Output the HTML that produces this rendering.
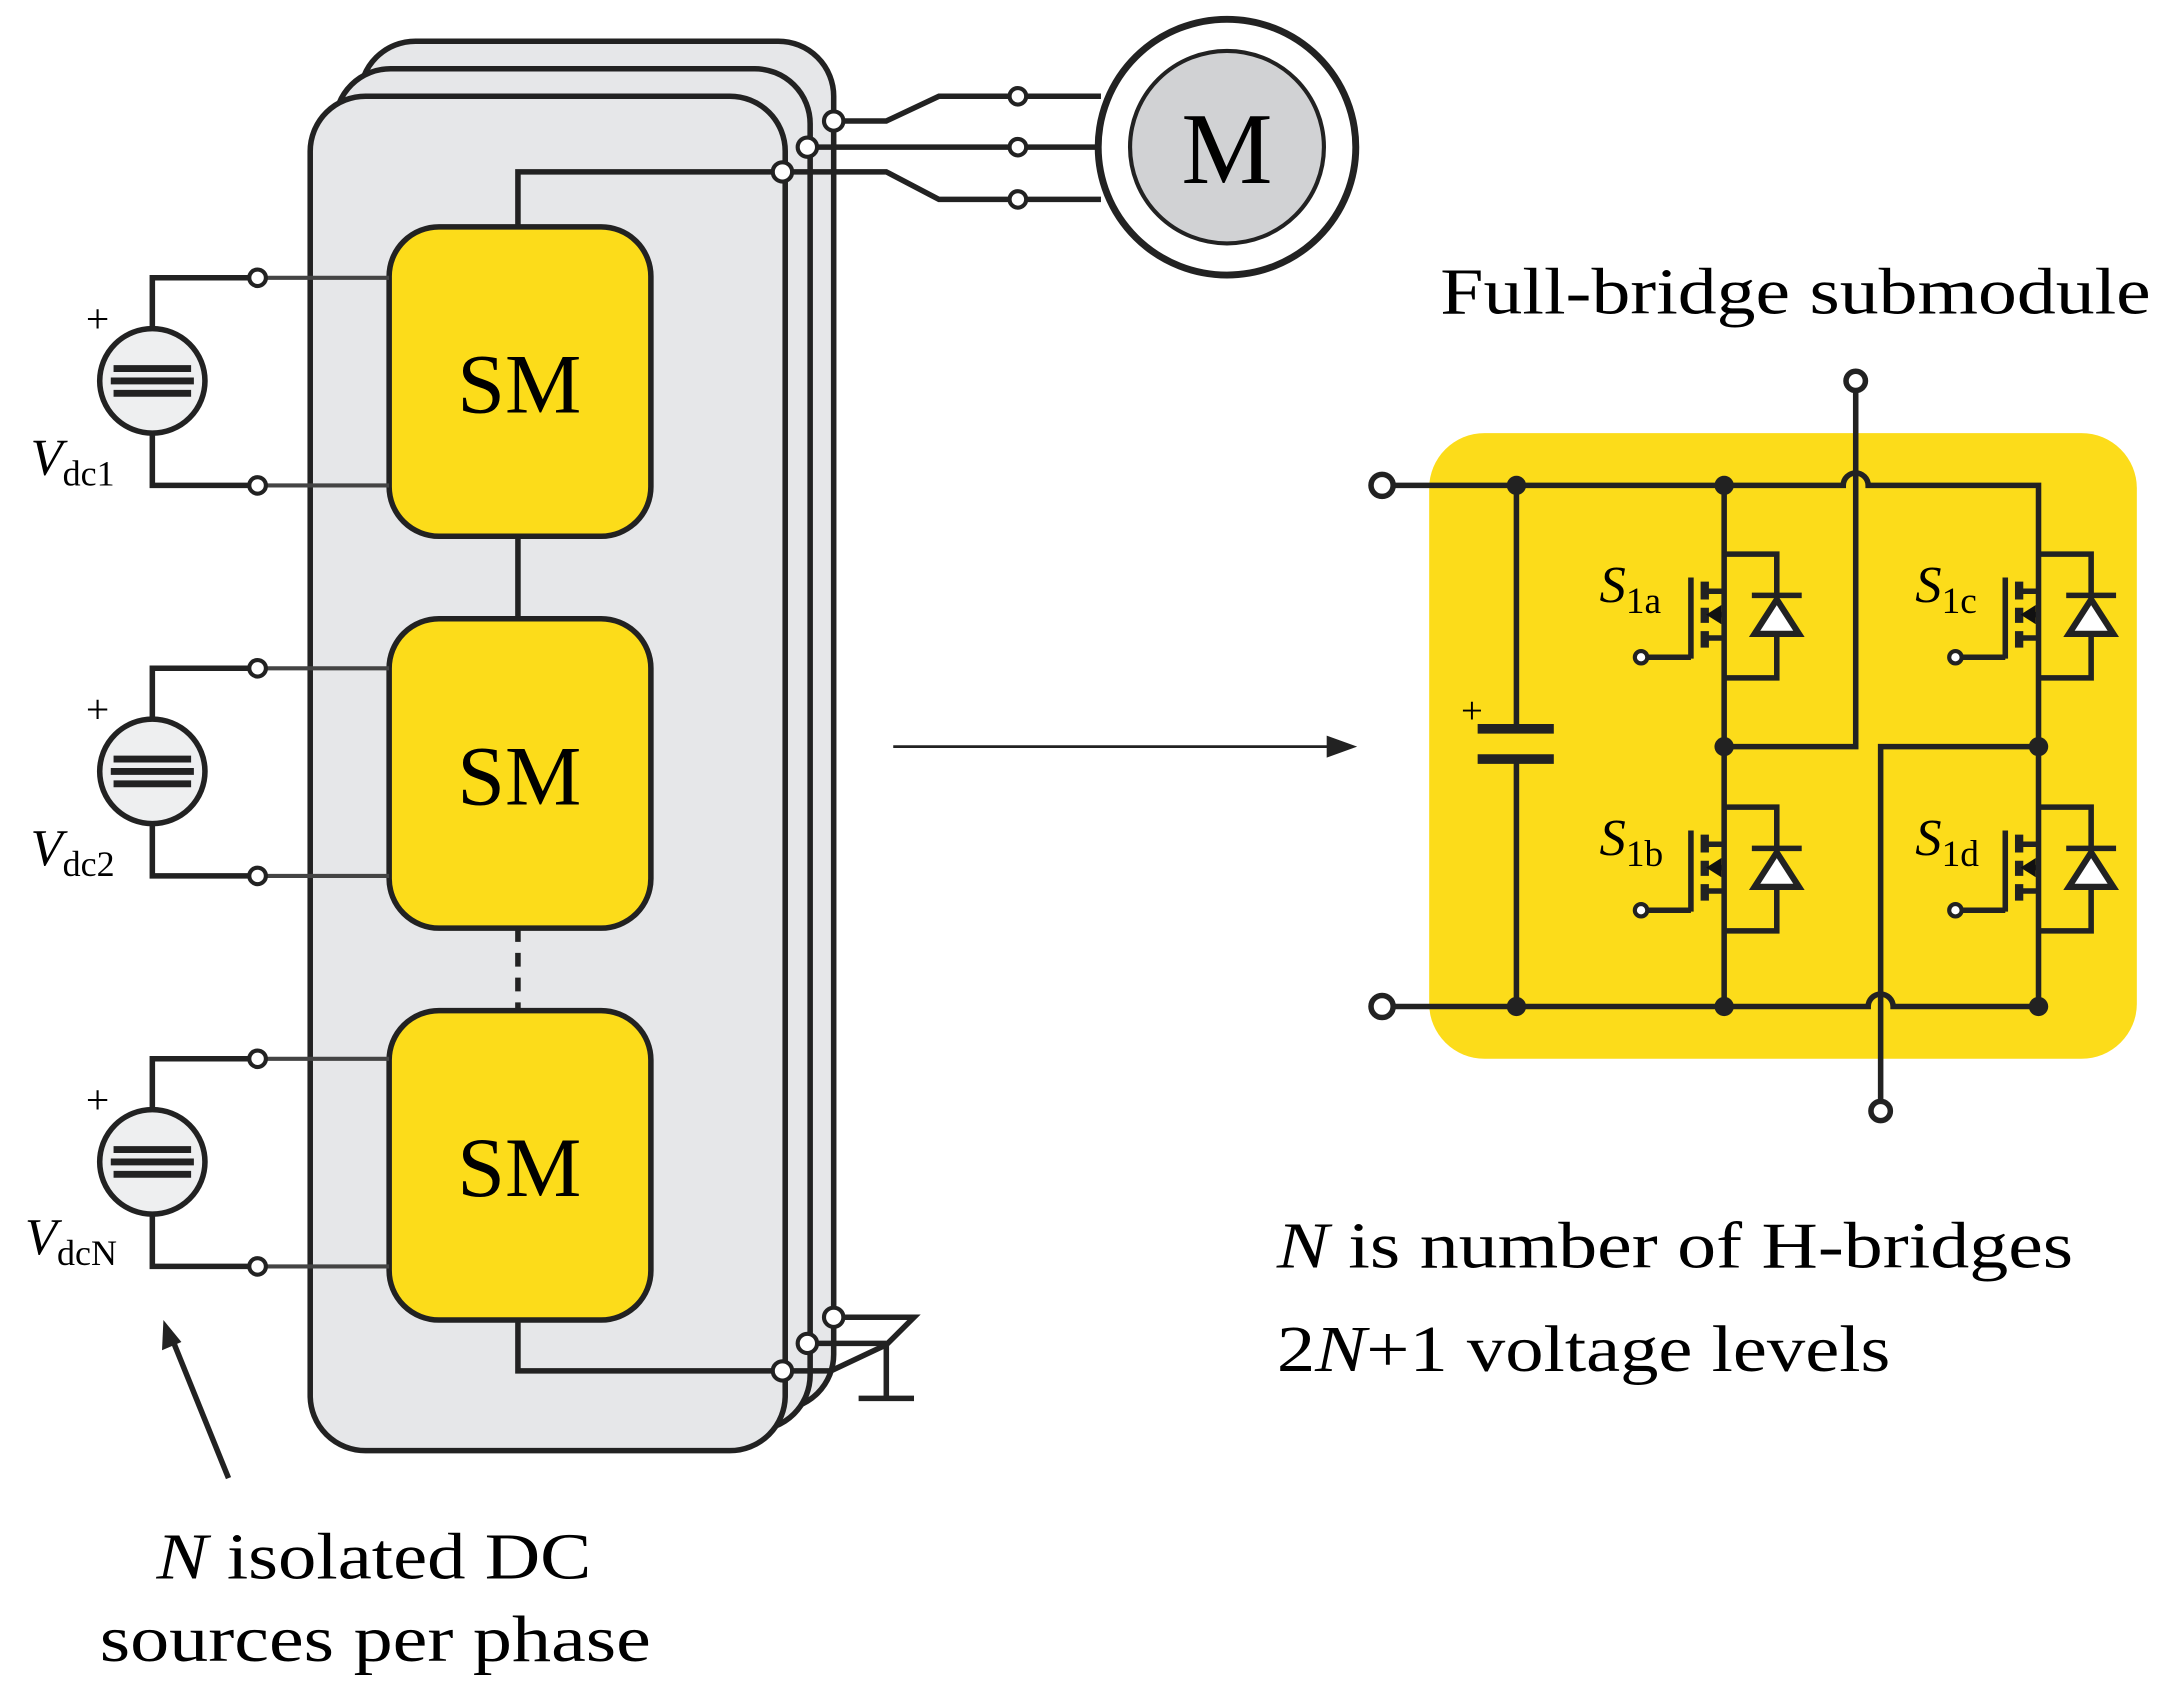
<!DOCTYPE html>
<html><head><style>html,body{margin:0;padding:0;background:#fff}svg{display:block}</style></head><body>
<svg width="2159" height="1705" viewBox="0 0 1559 1240" preserveAspectRatio="none" xmlns="http://www.w3.org/2000/svg" font-family="Liberation Serif, serif">
<defs>
<g id="fet" stroke="#222" stroke-width="4" fill="none">
<path d="M0,0 H38 V90 H0"/>
<line x1="20" y1="30" x2="56" y2="30"/>
<polygon points="38,33 22,58 54,58" fill="#fff" stroke-width="4.5"/>
<g stroke-width="6">
<line x1="-14" y1="20" x2="-14" y2="33"/>
<line x1="-14" y1="39" x2="-14" y2="50"/>
<line x1="-14" y1="56" x2="-14" y2="68"/>
</g>
<line x1="-24" y1="17" x2="-24" y2="76"/>
<path d="M-24,75 H-56"/>
<circle cx="-60" cy="75" r="4.5" fill="#fff" stroke-width="3"/>
<path d="M-14,27 H0"/><path d="M-14,61 H0"/><path d="M-6,44 H0"/>
<polygon points="-13,44 -2,37 -2,51" fill="#111" stroke="none"/>
</g>
<g id="src">
<path d="M186,202 H110 V239 M110,315 V353 H186" stroke="#222" stroke-width="4" fill="none"/>
<path d="M192,202 H281 M192,353 H281" stroke="#444" stroke-width="3"/>
<circle cx="110" cy="277" r="38" fill="#eeeff0" stroke="#222" stroke-width="4"/>
<path d="M82,268 H138 M80,277 H140 M82,286 H138" stroke="#222" stroke-width="5"/>
<circle cx="186" cy="202" r="6" fill="#fff" stroke="#222" stroke-width="3"/>
<circle cx="186" cy="353" r="6" fill="#fff" stroke="#222" stroke-width="3"/>
<text x="62" y="242" font-size="30">+</text>
</g>
</defs>
<rect x="260" y="30" width="342" height="995" rx="40" fill="#e6e7e9" stroke="#222" stroke-width="4"/>
<rect x="242" y="50" width="343" height="990" rx="40" fill="#e6e7e9" stroke="#222" stroke-width="4"/>
<rect x="224" y="70" width="343" height="985" rx="40" fill="#e6e7e9" stroke="#222" stroke-width="4"/>
<g stroke="#222" stroke-width="4" fill="none">
<path d="M374,165 V125 H565"/>
<path d="M374,390 V450"/>
<path d="M374,675 V735" stroke-dasharray="10,8"/>
<path d="M374,960 V997 H565"/>
<path d="M602,88 H640 L678,70 H795"/>
<path d="M583,107 H795"/>
<path d="M565,125 H640 L678,145 H795"/>
<path d="M602,958 H660 L640,978"/>
<path d="M583,977 H640"/>
<path d="M565,997 H600 L640,978"/>
<path d="M640,978 V1017 M620,1017 H660"/>
<path d="M165,1075 L122,968"/>
</g>
<polygon points="118,960 117,982 131,976" fill="#222"/>
<g fill="#fff" stroke="#222" stroke-width="3">
<circle cx="565" cy="125" r="7"/><circle cx="583" cy="107" r="7"/><circle cx="602" cy="88" r="7"/>
<circle cx="735" cy="70" r="6"/><circle cx="735" cy="107" r="6"/><circle cx="735" cy="145" r="6"/>
<circle cx="565" cy="997" r="7"/><circle cx="583" cy="977" r="7"/><circle cx="602" cy="958" r="7"/>
</g>
<circle cx="886" cy="107" r="93" fill="#fff" stroke="#222" stroke-width="5"/>
<circle cx="886" cy="107" r="70" fill="#d1d2d4" stroke="#222" stroke-width="3"/>
<text x="886" y="133" font-size="74" text-anchor="middle">M</text>
<g fill="#fcdc1a" stroke="#222" stroke-width="4">
<rect x="281" y="165" width="189" height="225" rx="36"/>
<rect x="281" y="450" width="189" height="225" rx="36"/>
<rect x="281" y="735" width="189" height="225" rx="36"/>
</g>
<g font-size="62" text-anchor="middle"><text x="375" y="300">SM</text><text x="375" y="585">SM</text><text x="375" y="870">SM</text></g>
<use href="#src"/><use href="#src" y="284"/><use href="#src" y="568"/>
<g font-size="38" font-style="italic">
<text x="22" y="345">V<tspan font-size="26" font-style="normal" dy="8">dc1</tspan></text>
<text x="22" y="629">V<tspan font-size="26" font-style="normal" dy="8">dc2</tspan></text>
<text x="18" y="912">V<tspan font-size="26" font-style="normal" dy="8">dcN</tspan></text>
</g>
<text x="113" y="1148" font-size="48" textLength="314" lengthAdjust="spacingAndGlyphs"><tspan font-style="italic">N</tspan> isolated DC</text>
<text x="72" y="1208" font-size="48" textLength="398" lengthAdjust="spacingAndGlyphs">sources per phase</text>
<line x1="645" y1="543" x2="962" y2="543" stroke="#222" stroke-width="2"/>
<polygon points="980,543 958,535 958,551" fill="#222"/>
<text x="1040" y="228" font-size="48" textLength="513" lengthAdjust="spacingAndGlyphs">Full-bridge submodule</text>
<rect x="1032" y="315" width="511" height="455" rx="40" fill="#fcdc1a"/>
<g stroke="#222" stroke-width="4" fill="none">
<path d="M1005,353 H1331 A9,9 0 0 1 1349,353 H1472 V732"/>
<path d="M1005,732 H1349 A9,9 0 0 1 1367,732 H1472"/>
<path d="M1340,284 V543 H1245"/>
<path d="M1245,353 V732"/>
<path d="M1472,543 H1358 V801"/>
<path d="M1095,353 V530 M1095,554 V732"/>
</g>
<path d="M1067,530 H1122 M1067,552 H1122" stroke="#222" stroke-width="7"/>
<text x="1055" y="526" font-size="28">+</text>
<g fill="#222">
<circle cx="1095" cy="353" r="7"/><circle cx="1245" cy="353" r="7"/><circle cx="1095" cy="732" r="7"/>
<circle cx="1245" cy="732" r="7"/><circle cx="1472" cy="732" r="7"/><circle cx="1245" cy="543" r="7"/><circle cx="1472" cy="543" r="7"/>
</g>
<g fill="#fff" stroke="#222" stroke-width="4">
<circle cx="998" cy="353" r="8"/><circle cx="998" cy="732" r="8"/>
<circle cx="1340" cy="277" r="7"/><circle cx="1358" cy="808" r="7"/>
</g>
<use href="#fet" x="1245" y="403"/><use href="#fet" x="1245" y="587"/>
<use href="#fet" x="1472" y="403"/><use href="#fet" x="1472" y="587"/>
<g font-size="38" font-style="italic">
<text x="1155" y="438">S<tspan font-size="27" font-style="normal" dy="8">1a</tspan></text>
<text x="1155" y="622">S<tspan font-size="27" font-style="normal" dy="8">1b</tspan></text>
<text x="1383" y="438">S<tspan font-size="27" font-style="normal" dy="8">1c</tspan></text>
<text x="1383" y="622">S<tspan font-size="27" font-style="normal" dy="8">1d</tspan></text>
</g>
<text x="922" y="922" font-size="48" textLength="575" lengthAdjust="spacingAndGlyphs"><tspan font-style="italic">N</tspan> is number of H-bridges</text>
<text x="922" y="997" font-size="48" textLength="443" lengthAdjust="spacingAndGlyphs">2<tspan font-style="italic">N</tspan>+1 voltage levels</text>
</svg>
</body></html>
